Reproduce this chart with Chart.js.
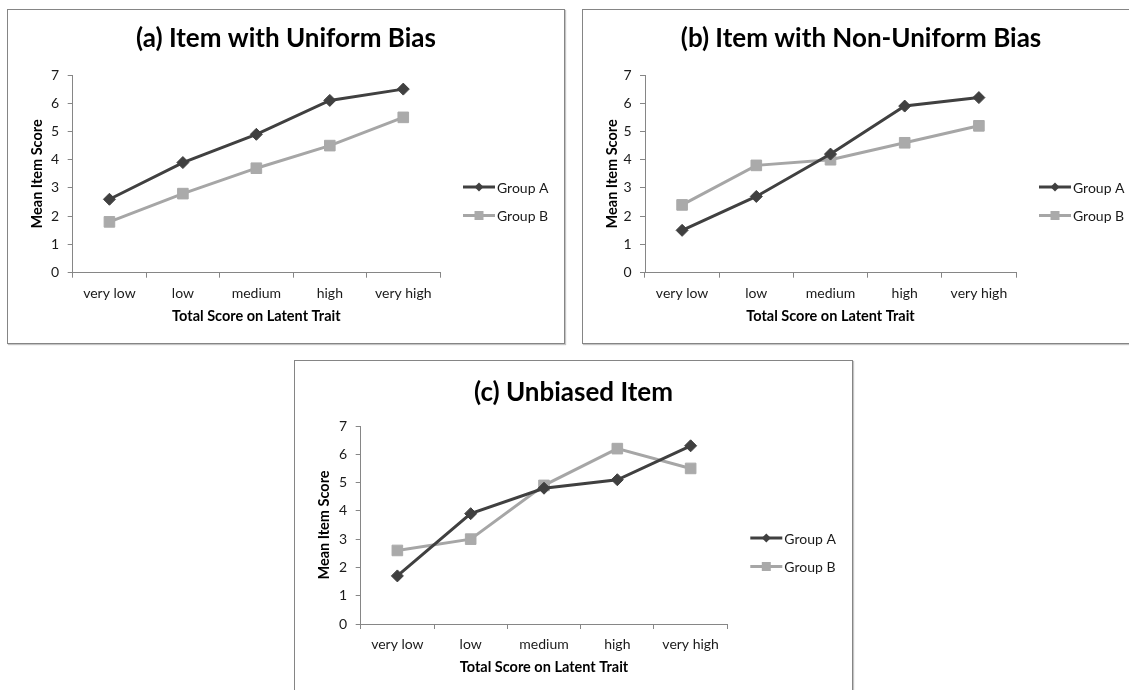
<!DOCTYPE html>
<html>
<head>
<meta charset="utf-8">
<script src="https://cdn.jsdelivr.net/npm/chart.js@4.4.0/dist/chart.umd.min.js"></script>
<style>
  html, body { margin: 0; padding: 0; background: #fff; overflow: hidden; }
  body { width: 1129px; height: 690px; position: relative; }
  .panel { position: absolute; border: 1px solid #858585; box-shadow: 1px 1px 1px #c4c4c4; background: #fff; }
  .panel canvas { display: block; }
</style>
</head>
<body>
<div class="panel" style="left:7px;top:9px;width:556px;height:333px"><canvas id="chartA"></canvas></div>
<div class="panel" style="left:582px;top:9px;width:556px;height:333px"><canvas id="chartB"></canvas></div>
<div class="panel" style="left:294px;top:360px;width:557px;height:340px"><canvas id="chartC"></canvas></div>
<script>
// data
const categories = ['very low', 'low', 'medium', 'high', 'very high'];
const yTicks = [0, 1, 2, 3, 4, 5, 6, 7];
const groupNames = ['Group A', 'Group B'];

const uniformA = [2.6, 3.9, 4.9, 6.1, 6.5];
const uniformB = [1.8, 2.8, 3.7, 4.5, 5.5];

const nonUniformA = [1.5, 2.7, 4.2, 5.9, 6.2];
const nonUniformB = [2.4, 3.8, 4.0, 4.6, 5.2];

const unbiasedA = [1.7, 3.9, 4.8, 5.1, 6.3];
const unbiasedB = [2.6, 3.0, 4.9, 6.2, 5.5];

Chart.defaults.font.family = 'Lato, "Open Sans", sans-serif';
Chart.defaults.color = '#1a1a1a';

const axisColor = '#868686';
const darkGrey = '#404040';
const lightGrey = '#a6a6a6';

// legend drawn to the right of the plot, like Excel does it
const sideLegend = {
  id: 'sideLegend',
  afterDraw(chart) {
    const ctx = chart.ctx;
    const area = chart.chartArea;
    chart.data.datasets.forEach(function (ds, i) {
      const y = area.top + 112 + i * 28.5;
      const x0 = area.right + 23;
      const mx = x0 + 16;
      ctx.save();
      ctx.strokeStyle = ds.borderColor;
      ctx.lineWidth = 3;
      ctx.beginPath();
      ctx.moveTo(x0, y);
      ctx.lineTo(x0 + 32, y);
      ctx.stroke();
      ctx.fillStyle = ds.pointBackgroundColor;
      ctx.beginPath();
      if (ds.pointStyle === 'rectRot') {
        ctx.moveTo(mx, y - 4.5);
        ctx.lineTo(mx + 4.5, y);
        ctx.lineTo(mx, y + 4.5);
        ctx.lineTo(mx - 4.5, y);
        ctx.closePath();
      } else {
        ctx.rect(mx - 4.5, y - 4.5, 9, 9);
      }
      ctx.fill();
      ctx.fillStyle = '#1a1a1a';
      ctx.font = '14px Lato, "Open Sans", sans-serif';
      ctx.textBaseline = 'middle';
      ctx.fillText(ds.label, x0 + 34, y + 1);
      ctx.restore();
    });
  }
};

function makeChart(id, titleText, box, dataA, dataB) {
  const canvas = document.getElementById(id);
  const titleSize = 26;
  const titleLine = titleSize * 1.2;
  const padTop = box.titleMid - titleLine / 2;
  const padBottom = box.top - titleLine - padTop;
  const xHeight = 55;
  const axisTitleSize = 14.5;

  return new Chart(canvas.getContext('2d'), {
    type: 'line',
    data: {
      labels: categories,
      datasets: [{
        label: groupNames[0],
        data: dataA,
        borderColor: darkGrey,
        backgroundColor: darkGrey,
        borderWidth: 3,
        pointStyle: 'rectRot',
        pointRadius: 6,
        pointBackgroundColor: darkGrey,
        pointBorderColor: darkGrey,
        pointBorderWidth: 1,
        tension: 0
      }, {
        label: groupNames[1],
        data: dataB,
        borderColor: lightGrey,
        backgroundColor: lightGrey,
        borderWidth: 3,
        pointStyle: 'rect',
        pointRadius: 7.5,
        pointBackgroundColor: '#aaaaaa',
        pointBorderColor: '#aaaaaa',
        pointBorderWidth: 1,
        tension: 0
      }]
    },
    options: {
      responsive: true,
      maintainAspectRatio: false,
      animation: false,
      devicePixelRatio: 1,
      events: [],
      layout: {
        padding: { left: 0, top: 0, right: 0, bottom: canvas.parentNode.clientHeight - box.bottom - xHeight }
      },
      plugins: {
        legend: { display: false },
        tooltip: { enabled: false },
        title: {
          display: true,
          text: titleText,
          color: '#000',
          font: { size: titleSize, weight: 'bold' },
          padding: { top: padTop, bottom: padBottom }
        }
      },
      scales: {
        x: {
          type: 'category',
          offset: true,
          grid: { display: true, drawOnChartArea: false, drawTicks: true, tickLength: 5, offset: true, color: axisColor },
          border: { color: axisColor, width: 1 },
          ticks: { padding: 7, font: { size: 14 } },
          title: { display: true, text: 'Total Score on Latent Trait', color: '#000', font: { size: axisTitleSize, weight: 'bold' }, padding: { top: 0, bottom: 2.5 } },
          afterFit(s) { s.height = xHeight; }
        },
        y: {
          min: yTicks[0],
          max: yTicks[yTicks.length - 1],
          grid: { display: true, drawOnChartArea: false, drawTicks: true, tickLength: 5, color: axisColor },
          border: { color: axisColor, width: 1 },
          ticks: { stepSize: 1, padding: 8.5, font: { size: 14 } },
          title: { display: true, text: 'Mean Item Score', color: '#000', font: { size: axisTitleSize, weight: 'bold' }, padding: { top: 20.8, bottom: 0 } },
          afterFit(s) { s.width = box.left; }
        },
        // empty right axis that keeps room for the legend
        side: {
          type: 'linear',
          position: 'right',
          display: true,
          grid: { display: false },
          border: { display: false },
          ticks: { display: false },
          afterFit(s) { s.width = s.chart.width - box.right; }
        }
      }
    },
    plugins: [sideLegend]
  });
}

makeChart('chartA', '(a) Item with Uniform Bias',
  { left: 64.7, right: 432, top: 65, bottom: 262.7, titleMid: 28.5 }, uniformA, uniformB);
makeChart('chartB', '(b) Item with Non-Uniform Bias',
  { left: 62, right: 433, top: 65, bottom: 262.7, titleMid: 28.5 }, nonUniformA, nonUniformB);
makeChart('chartC', '(c) Unbiased Item',
  { left: 65.7, right: 432.3, top: 65, bottom: 263, titleMid: 31.5 }, unbiasedA, unbiasedB);
</script>
</body>
</html>
